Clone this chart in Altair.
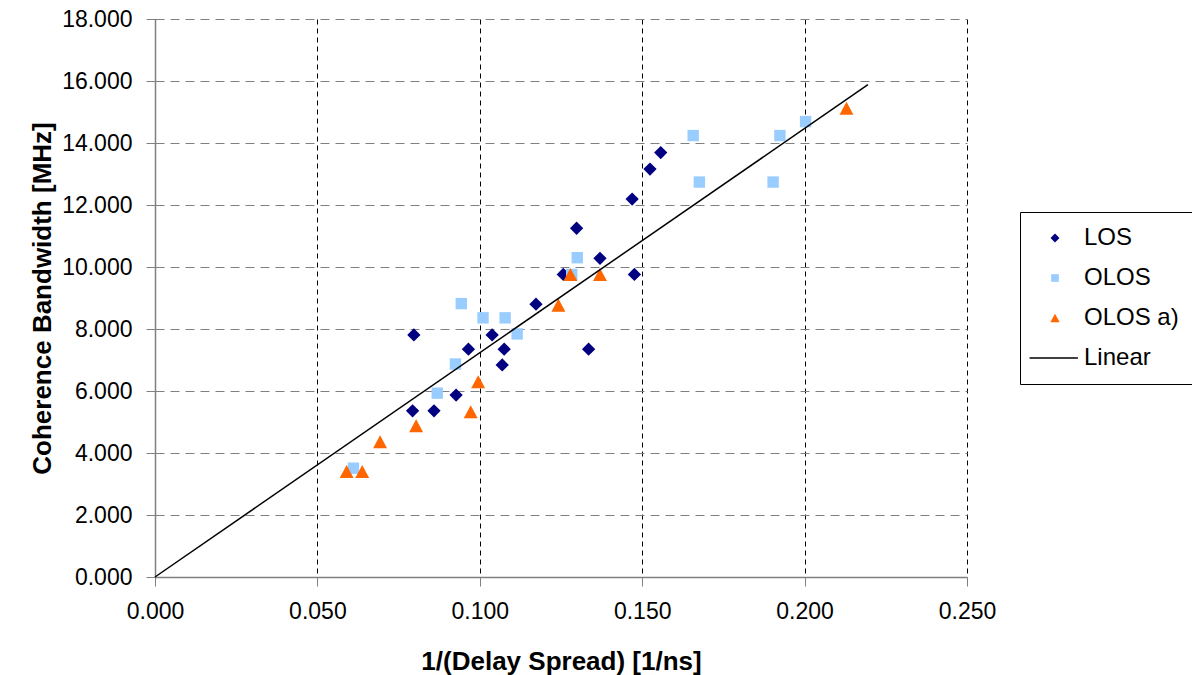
import altair as alt
import pandas as pd

# LOS (diamonds)
los_x = [0.0797, 0.0965, 0.1038, 0.1075, 0.1069, 0.0927, 0.0793, 0.0859, 0.1173,
         0.1257, 0.1298, 0.1370, 0.1335, 0.1469, 0.1476, 0.1524, 0.1557]
los_y = [7.81, 7.35, 7.81, 7.35, 6.84, 5.87, 5.36, 5.36, 8.80,
         9.76, 11.25, 10.28, 7.35, 12.19, 9.76, 13.16, 13.69]

# OLOS (squares)
olos_x = [0.0943, 0.1010, 0.1078, 0.1115, 0.0925, 0.0869, 0.1300, 0.1283,
          0.1657, 0.1676, 0.1924, 0.1903, 0.2003, 0.0611]
olos_y = [8.82, 8.36, 8.36, 7.84, 6.87, 5.93, 10.30, 9.76,
          14.24, 12.74, 14.24, 12.74, 14.69, 3.51]

# OLOS a) (triangles)
olosa_x = [0.0590, 0.0638, 0.0693, 0.0804, 0.0972, 0.0995, 0.1242, 0.1279, 0.1370, 0.2129]
olosa_y = [3.40, 3.40, 4.36, 4.88, 5.33, 6.30, 8.77, 9.76, 9.76, 15.12]

# Linear trend line
line_x = [0.0, 0.2195]
line_y = [0.0, 15.88]

series_order = ["LOS", "OLOS", "OLOS a)", "Linear"]
series_colors = ["#000080", "#99CCFF", "#FF6600", "#000000"]
series_shapes = [
    "M-1.05,0L0,-1.05L1.05,0L0,1.05Z",
    "M-0.9,-0.9H0.9V0.9H-0.9Z",
    "M0,-1.03L1.1,1.03L-1.1,1.03Z",
    "M-6,0H5.4",
]

x_ticks = [0.0, 0.05, 0.10, 0.15, 0.20, 0.25]
y_ticks = [0, 2, 4, 6, 8, 10, 12, 14, 16, 18]

rows = []
for name, xs, ys in [("LOS", los_x, los_y), ("OLOS", olos_x, olos_y), ("OLOS a)", olosa_x, olosa_y)]:
    for xv, yv in zip(xs, ys):
        rows.append({"x": xv, "y": yv, "series": name})
pts = pd.DataFrame(rows)
line_df = pd.DataFrame({"x": line_x, "y": line_y})

FONT = "Liberation Sans"

legend = alt.Legend(
    title=None,
    orient="none",
    legendX=865,
    legendY=193,
    strokeColor="black",
    fillColor="white",
    padding=14,
    symbolSize=72,
    symbolOffset=9,
    labelOffset=17,
    rowPadding=16,
    labelFont=FONT,
    labelFontSize=24,
    labelColor="black",
    labelExpr="datum.label + '      '",
    symbolStrokeColor="black",
    symbolStrokeWidth=alt.ExprRef("datum.value === 'Linear' ? 1.5 : 0"),
)

xscale = alt.Scale(domain=[0, 0.25], nice=False, zero=False)
yscale = alt.Scale(domain=[0, 18], nice=False)

points = alt.Chart(pts).mark_point(filled=True, size=160, opacity=1).encode(
    x=alt.X("x:Q", scale=xscale,
            axis=alt.Axis(values=x_ticks, format=".3f", title="1/(Delay Spread) [1/ns]",
                          gridColor="black", gridDash=[5, 4], gridWidth=1,
                          labelPadding=14, titlePadding=25, labelFlush=False)),
    y=alt.Y("y:Q", scale=yscale,
            axis=alt.Axis(values=y_ticks, format=".3f", title="Coherence Bandwidth [MHz]",
                          gridColor="#808080", gridDash=[9, 6], gridWidth=1,
                          labelPadding=14, titlePadding=6)),
    color=alt.Color("series:N", scale=alt.Scale(domain=series_order, range=series_colors), legend=legend),
    shape=alt.Shape("series:N", scale=alt.Scale(domain=series_order, range=series_shapes), legend=legend),
)

line = alt.Chart(line_df).mark_line(color="black", strokeWidth=1.5).encode(
    x=alt.X("x:Q", scale=xscale),
    y=alt.Y("y:Q", scale=yscale),
)

chart = alt.layer(points, line).properties(
    width=812,
    height=558,
    autosize=alt.AutoSizeParams(type="none"),
    padding={"left": 155, "top": 19, "right": 225, "bottom": 98},
    background="white",
).configure_view(strokeWidth=0).configure_axis(
    labelFont=FONT,
    labelFontSize=23,
    labelColor="black",
    titleFont=FONT,
    titleFontSize=26,
    titleFontWeight="bold",
    titleColor="black",
    domainColor="#808080",
    domainWidth=1.5,
    tickColor="#808080",
    tickSize=9,
)

chart.save("out.html", embed_options={"renderer": "svg", "actions": False})
